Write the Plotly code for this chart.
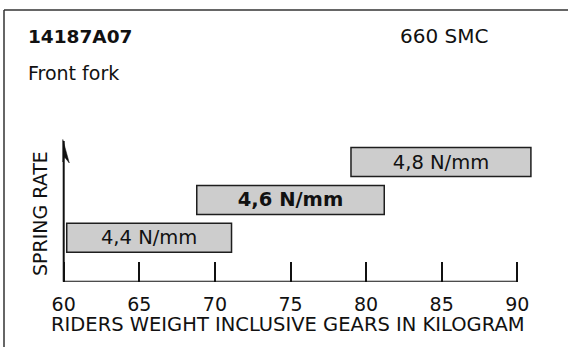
import plotly.graph_objects as go

# Spring rate ranges (N/mm) versus rider weight (kg)
rates = ["4,4 N/mm", "4,6 N/mm", "4,8 N/mm"]
weight_from = [60.2, 68.8, 79.0]
weight_to = [71.1, 81.2, 90.9]
rate_rows = [1, 2, 3]
highlight = [False, True, False]

x_ticks = [60, 65, 70, 75, 80, 85, 90]

part_no = "14187A07"
model = "660 SMC"
component = "Front fork"
x_title = "RIDERS WEIGHT INCLUSIVE GEARS IN KILOGRAM"
y_title = "SPRING RATE"

W, H = 568, 347
FONT = "DejaVu Sans"

labels = [f"<b>{r}</b>" if h else r for r, h in zip(rates, highlight)]

fig = go.Figure(
    go.Bar(
        orientation="h",
        y=rate_rows,
        base=weight_from,
        x=[b - a for a, b in zip(weight_from, weight_to)],
        width=0.765,
        marker=dict(color="#cdcdcd", line=dict(color="#1e1e1e", width=1.5)),
        text=labels,
        textposition="inside",
        insidetextanchor="middle",
        constraintext="none",
        textfont=dict(family=FONT, size=19.5, color="#111"),
        hoverinfo="skip",
    )
)

y_lo, y_hi = -0.158, 7.274
axis_bottom = 1 - 281.7 / H

fig.update_layout(
    width=W,
    height=H,
    margin=dict(l=0, r=0, t=0, b=0),
    paper_bgcolor="white",
    plot_bgcolor="white",
    showlegend=False,
    font=dict(family=FONT, color="#111"),
    xaxis=dict(
        domain=[0, 1],
        range=[55.787, 93.353],
        tickvals=x_ticks,
        ticks="inside",
        ticklen=20,
        tickwidth=2,
        tickcolor="#111",
        ticklabelstandoff=9,
        tickfont=dict(family=FONT, size=19, color="#111"),
        showgrid=False,
        zeroline=False,
        showline=False,
        fixedrange=True,
    ),
    yaxis=dict(
        domain=[axis_bottom, 1],
        range=[y_lo, y_hi],
        showticklabels=False,
        ticks="",
        showgrid=False,
        zeroline=False,
        showline=False,
        fixedrange=True,
    ),
)

# Axis lines
fig.add_shape(type="line", xref="x", yref="y", x0=x_ticks[0], x1=x_ticks[-1],
              y0=y_lo, y1=y_lo, line=dict(color="#111", width=2))
fig.add_shape(type="line", xref="x", yref="paper", x0=x_ticks[0], x1=x_ticks[0],
              y0=axis_bottom, y1=1 - 141 / H, line=dict(color="#111", width=2))


def px(x, y):
    return f"{x / W:.5f},{1 - y / H:.5f}"


# Half arrowhead on the vertical axis
fig.add_shape(type="path", xref="paper", yref="paper",
              path=f"M {px(62.8, 139.5)} L {px(69.3, 163)} L {px(64.5, 157)} L {px(62.8, 162)} Z",
              fillcolor="#111", line=dict(color="#111", width=0.5))

# Frame around the sheet
fig.add_shape(type="line", xref="paper", yref="paper", x0=4 / W,
              x1=1, y0=1 - 10 / H, y1=1 - 10 / H, line=dict(color="#333", width=1.5))
fig.add_shape(type="line", xref="paper", yref="paper", x0=4 / W, x1=4 / W,
              y0=0, y1=1 - 10 / H, line=dict(color="#333", width=1.5))

# Header texts
fig.add_annotation(x=26 / W, y=1 - 36 / H, xref="paper", yref="paper", xanchor="left",
                   yanchor="middle", showarrow=False, text=f"<b>{part_no}</b>",
                   font=dict(family=FONT, size=18.5, color="#111"))
fig.add_annotation(x=490 / W, y=1 - 36 / H, xref="paper", yref="paper", xanchor="right",
                   yanchor="middle", showarrow=False, text=model,
                   font=dict(family=FONT, size=20, color="#111"))
fig.add_annotation(x=26 / W, y=1 - 73 / H, xref="paper", yref="paper", xanchor="left",
                   yanchor="middle", showarrow=False, text=component,
                   font=dict(family=FONT, size=19, color="#111"))

# Axis titles
fig.add_annotation(x=287.5 / W, y=1 - 324 / H, xref="paper", yref="paper", xanchor="center",
                   yanchor="middle", showarrow=False, text=x_title,
                   font=dict(family=FONT, size=19.5, color="#111"))
fig.add_annotation(x=40 / W, y=1 - 214 / H, xref="paper", yref="paper", xanchor="center",
                   yanchor="middle", showarrow=False, text=y_title, textangle=-90,
                   font=dict(family=FONT, size=19, color="#111"))

fig.write_html("out.html")
